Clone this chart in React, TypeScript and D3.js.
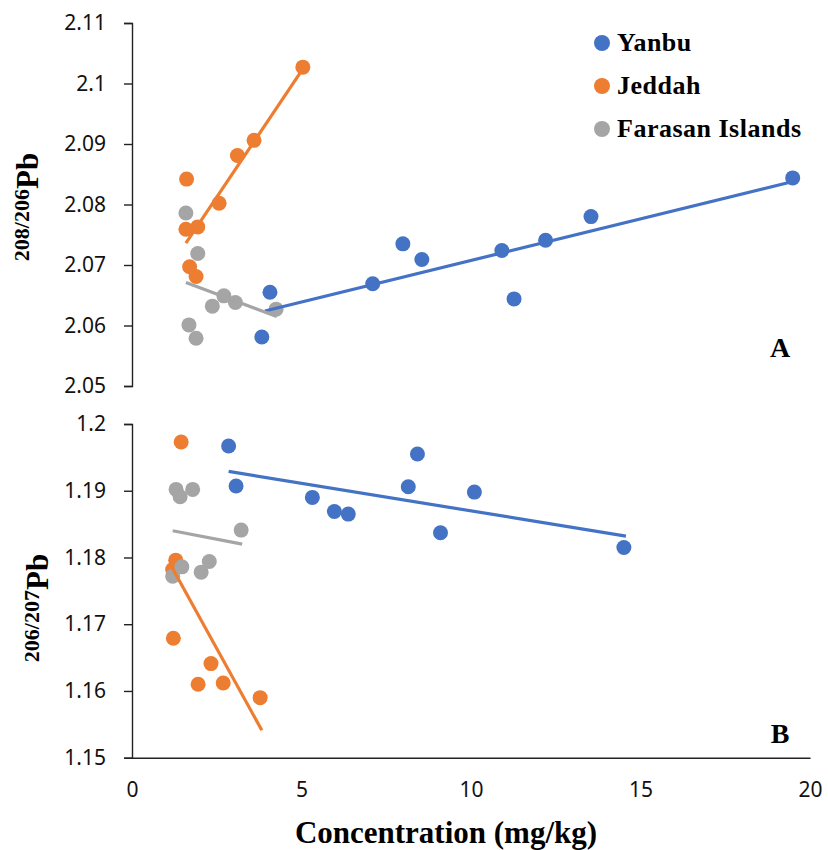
import React, { useRef, useEffect } from "react";
import * as d3 from "d3";

// panel A : 208/206Pb
const yanbuAx = [3.83, 4.07, 7.1, 7.99, 8.55, 10.91, 11.27, 12.2, 13.54, 19.49];
const yanbuAy = [2.0581, 2.0655, 2.0669, 2.0735, 2.0709, 2.0724, 2.0644, 2.0741, 2.078, 2.0844];
const jeddahAx = [1.59, 1.61, 1.7, 1.89, 1.94, 2.57, 3.11, 3.6, 5.04];
const jeddahAy = [2.0759, 2.0842, 2.0697, 2.0681, 2.0763, 2.0802, 2.0881, 2.0906, 2.1027];
const farasanAx = [1.59, 1.68, 1.89, 1.94, 2.37, 2.71, 3.05, 4.25];
const farasanAy = [2.0786, 2.0601, 2.0579, 2.0719, 2.0632, 2.0649, 2.0638, 2.0627];

// panel B : 206/207Pb
const yanbuBx = [2.85, 3.07, 5.32, 5.97, 6.38, 8.15, 8.42, 9.1, 10.1, 14.51];
const yanbuBy = [1.1967, 1.1907, 1.189, 1.1869, 1.1865, 1.1906, 1.1955, 1.1837, 1.1898, 1.1815];
const jeddahBx = [1.2, 1.22, 1.29, 1.45, 1.95, 2.33, 2.69, 3.78];
const jeddahBy = [1.1782, 1.1679, 1.1796, 1.1973, 1.161, 1.1641, 1.1612, 1.159];
const farasanBx = [1.2, 1.3, 1.42, 1.47, 1.79, 2.04, 2.28, 3.22];
const farasanBy = [1.1772, 1.1902, 1.1891, 1.1786, 1.1902, 1.1778, 1.1794, 1.1841];

// trend lines [x0, y0, x1, y1]
const trendA = [
  [3.92, 2.0624, 19.5, 2.0838],
  [1.59, 2.0736, 5.0, 2.1021],
  [1.59, 2.0671, 4.27, 2.0615],
];
const trendB = [
  [2.85, 1.1929, 14.57, 1.1832],
  [1.17, 1.1786, 3.83, 1.1541],
  [1.2, 1.184, 3.25, 1.182],
];

const seriesNames = ["Yanbu", "Jeddah", "Farasan Islands"];
const colors = ["#4472C4", "#ED7D31", "#A5A5A5"];
const xTicks = [0, 5, 10, 15, 20];
const yTicksA = [2.05, 2.06, 2.07, 2.08, 2.09, 2.1, 2.11];
const yTicksB = [1.15, 1.16, 1.17, 1.18, 1.19, 1.2];

const App = () => {
  const svgRef = useRef<SVGSVGElement>(null);

  useEffect(() => {
    const svg = d3.select(svgRef.current);
    svg.selectAll("*").remove();

    const x = d3.scaleLinear().domain([0, 20]).range([132, 810]);
    const tickFont = "'Noto Sans', sans-serif";
    const serif = "'Liberation Serif', 'Times New Roman', serif";

    const drawPanel = (
      yDomain: number[],
      yRange: number[],
      ticks: number[],
      pts: number[][][],
      trends: number[][],
      withXAxis: boolean
    ) => {
      const y = d3.scaleLinear().domain(yDomain).range(yRange);
      const g = svg.append("g");

      // y axis
      const ya = g
        .append("g")
        .attr("transform", `translate(${x(0)},0)`)
        .call(
          d3
            .axisLeft(y)
            .tickValues(ticks)
            .tickSize(8)
            .tickPadding(18)
            .tickFormat((d) => String(+d))
        );
      ya.select(".domain").attr("stroke", "#222").attr("stroke-width", 1.4);
      ya.selectAll(".tick line").attr("stroke", "#222").attr("stroke-width", 1.4);
      ya.selectAll(".tick text")
        .attr("font-family", tickFont)
        .attr("font-size", 21)
        .attr("fill", "#111");

      if (withXAxis) {
        const xa = g
          .append("g")
          .attr("transform", `translate(0,${y(yDomain[0])})`)
          .call(
            d3
              .axisBottom(x)
              .tickValues(xTicks)
              .tickSize(0)
              .tickPadding(24)
              .tickFormat((d) => String(d))
          );
        xa.select(".domain").attr("stroke", "#222").attr("stroke-width", 1.4);
        xa.selectAll(".tick text")
          .attr("font-family", tickFont)
          .attr("font-size", 21)
          .attr("fill", "#111");
      }

      // markers
      pts.forEach(([xs, ys], i) => {
        g.append("g")
          .selectAll("circle")
          .data(xs.map((v, k) => [v, ys[k]]))
          .enter()
          .append("circle")
          .attr("cx", (d) => x(d[0]))
          .attr("cy", (d) => y(d[1]))
          .attr("r", 7.5)
          .attr("fill", colors[i]);
      });

      // linear trend lines
      trends.forEach((t, i) => {
        g.append("line")
          .attr("x1", x(t[0]))
          .attr("y1", y(t[1]))
          .attr("x2", x(t[2]))
          .attr("y2", y(t[3]))
          .attr("stroke", colors[i])
          .attr("stroke-width", 3.2);
      });
    };

    drawPanel(
      [2.05, 2.11],
      [386, 23],
      yTicksA,
      [
        [yanbuAx, yanbuAy],
        [jeddahAx, jeddahAy],
        [farasanAx, farasanAy],
      ],
      trendA,
      false
    );
    drawPanel(
      [1.15, 1.2],
      [757.7, 424],
      yTicksB,
      [
        [yanbuBx, yanbuBy],
        [jeddahBx, jeddahBy],
        [farasanBx, farasanBy],
      ],
      trendB,
      true
    );

    // legend
    const lg = svg.append("g");
    seriesNames.forEach((name, i) => {
      const cy = 43 + i * 43;
      lg.append("circle").attr("cx", 602).attr("cy", cy).attr("r", 8).attr("fill", colors[i]);
      lg.append("text")
        .attr("x", 617)
        .attr("y", cy + 8)
        .attr("font-family", serif)
        .attr("font-weight", "bold")
        .attr("font-size", 26)
        .attr("letter-spacing", 0.5)
        .text(name);
    });

    // panel letters
    svg.append("text").attr("x", 780).attr("y", 357).attr("text-anchor", "middle")
      .attr("font-family", serif).attr("font-weight", "bold").attr("font-size", 28).text("A");
    svg.append("text").attr("x", 780).attr("y", 743).attr("text-anchor", "middle")
      .attr("font-family", serif).attr("font-weight", "bold").attr("font-size", 28).text("B");

    // axis titles
    svg.append("text")
      .attr("x", 446)
      .attr("y", 843)
      .attr("text-anchor", "middle")
      .attr("font-family", serif)
      .attr("font-weight", "bold")
      .attr("font-size", 31)
      .text("Concentration (mg/kg)");

    const yTitle = (cx: number, cy: number, sup: string) => {
      const t = svg
        .append("text")
        .attr("transform", `translate(${cx},${cy}) rotate(-90)`)
        .attr("text-anchor", "middle")
        .attr("font-family", serif)
        .attr("font-weight", "bold");
      t.append("tspan").attr("font-size", 22).attr("dy", -9).text(sup);
      t.append("tspan").attr("font-size", 31).attr("dy", 9).text("Pb");
    };
    yTitle(38, 207, "208/206");
    yTitle(48, 608, "206/207");
  }, []);

  return (
    <svg
      ref={svgRef}
      width={828}
      height={850}
      style={{ position: "absolute", left: 0, top: 0, background: "#fff" }}
    ></svg>
  );
};

export default App;
